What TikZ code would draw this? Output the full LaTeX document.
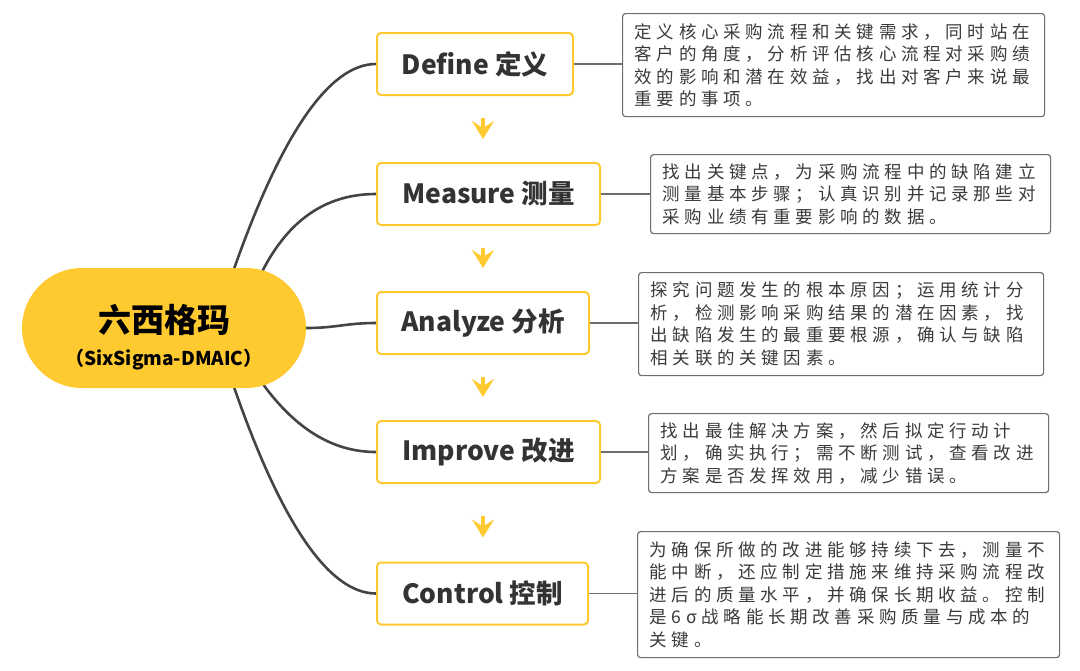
\documentclass[tikz,border=0pt]{standalone}
\usepackage{fontspec}
\setmainfont{Noto Sans CJK SC}
\newfontfamily\descfont{Noto Sans CJK SC}[LetterSpace=27]
\usetikzlibrary{arrows.meta,calc,backgrounds}
\definecolor{myyellow}{HTML}{FFC930}
\definecolor{linegray}{HTML}{444444}
\definecolor{boxgray}{HTML}{6E6E6E}
\definecolor{txt}{HTML}{333333}
\definecolor{desctxt}{HTML}{3A3A3A}
\begin{document}
\begin{tikzpicture}[x=1pt,y=-1pt,
 central/.style={fill=myyellow, rounded corners=60pt, minimum width=284pt, minimum height=120pt, inner sep=0pt, align=center, text=black},
 stepbox/.style={draw=myyellow, line width=2pt, fill=white, rounded corners=4pt, minimum height=62pt, inner sep=0pt, anchor=west, text=txt, font=\fontsize{26.5}{30}\selectfont\bfseries},
 descbox/.style={draw=boxgray, line width=1.2pt, rounded corners=3pt, anchor=north west, inner xsep=12pt, inner ysep=0pt, align=left, text=desctxt, font=\descfont\fontsize{17.5}{22.5}\selectfont},
 branch/.style={draw=linegray, line width=2.6pt},
 link/.style={draw=boxgray, line width=1.2pt},
 flow/.style={draw=myyellow, line width=4pt, -{Stealth[length=18pt,width=22pt,inset=7pt]}},
]
\useasboundingbox (0,0) rectangle (1080,670);

\node[central] (c) at (164,328) {\fontsize{33}{36}\selectfont\bfseries\rule{0pt}{46pt}六西格玛\\[12pt]\fontsize{19}{22}\selectfont\bfseries （SixSigma-DMAIC）};

\node[stepbox, minimum width=196pt] (define) at (376,64) {Define 定义};
\node[stepbox, minimum width=223pt] (measure) at (376,194) {Measure 测量};
\node[stepbox, minimum width=212pt] (analyze) at (376,323) {Analyze 分析};
\node[stepbox, minimum width=223pt] (improve) at (376,452) {Improve 改进};
\node[stepbox, minimum width=211pt] (control) at (376,593.5) {Control 控制};

\begin{scope}[on background layer]
\draw[branch] ($(c.north)+(69,4)$) .. controls +(48,-137) and +(-47,0) .. (define.west);
\draw[branch] ($(c.north)+(98,4)$) .. controls +(27,-53) and +(-49,0) .. (measure.west);
\draw[branch] (c.east) .. controls +(30,0) and +(-30,0) .. (analyze.west);
\draw[branch] ($(c.south)+(99,-4)$) .. controls +(33,45) and +(-43,0) .. (improve.west);
\draw[branch] ($(c.south)+(69,-4)$) .. controls +(48,139) and +(-47,0) .. (control.west);
\end{scope}

\node[descbox, minimum width=422pt, minimum height=103pt, text width=398pt] (d1) at (622,13) {定义核心采购流程和关键需求，同时站在\\客户的角度，分析评估核心流程对采购绩\\效的影响和潜在效益，找出对客户来说最\\重要的事项。};
\node[descbox, minimum width=400pt, minimum height=79pt, text width=376pt] (d2) at (650,154) {找出关键点，为采购流程中的缺陷建立\\测量基本步骤；认真识别并记录那些对\\采购业绩有重要影响的数据。};
\node[descbox, minimum width=405pt, minimum height=103pt, text width=381pt] (d3) at (638,272) {探究问题发生的根本原因；运用统计分\\析，检测影响采购结果的潜在因素，找\\出缺陷发生的最重要根源，确认与缺陷\\相关联的关键因素。};
\node[descbox, minimum width=400pt, minimum height=79pt, text width=376pt] (d4) at (648,413) {找出最佳解决方案，然后拟定行动计\\划，确实执行；需不断测试，查看改进\\方案是否发挥效用，减少错误。};
\node[descbox, minimum width=422pt, minimum height=126pt, text width=398pt] (d5) at (637,531) {为确保所做的改进能够持续下去，测量不\\能中断，还应制定措施来维持采购流程改\\进后的质量水平，并确保长期收益。控制\\是6σ战略能长期改善采购质量与成本的\\关键。};

\draw[link] (define.east) -- (define.east -| d1.west);
\draw[link] (measure.east) -- (measure.east -| d2.west);
\draw[link] (analyze.east) -- (analyze.east -| d3.west);
\draw[link] (improve.east) -- (improve.east -| d4.west);
\draw[link] (control.east) -- (control.east -| d5.west);

\coordinate (ax) at (483,0);
\draw[flow, shorten <=22pt, shorten >=23pt] (define.south -| ax) -- (measure.north -| ax);
\draw[flow, shorten <=22pt, shorten >=23pt] (measure.south -| ax) -- (analyze.north -| ax);
\draw[flow, shorten <=22pt, shorten >=23pt] (analyze.south -| ax) -- (improve.north -| ax);
\draw[flow, shorten <=32pt, shorten >=24pt] (improve.south -| ax) -- (control.north -| ax);
\end{tikzpicture}
\end{document}
